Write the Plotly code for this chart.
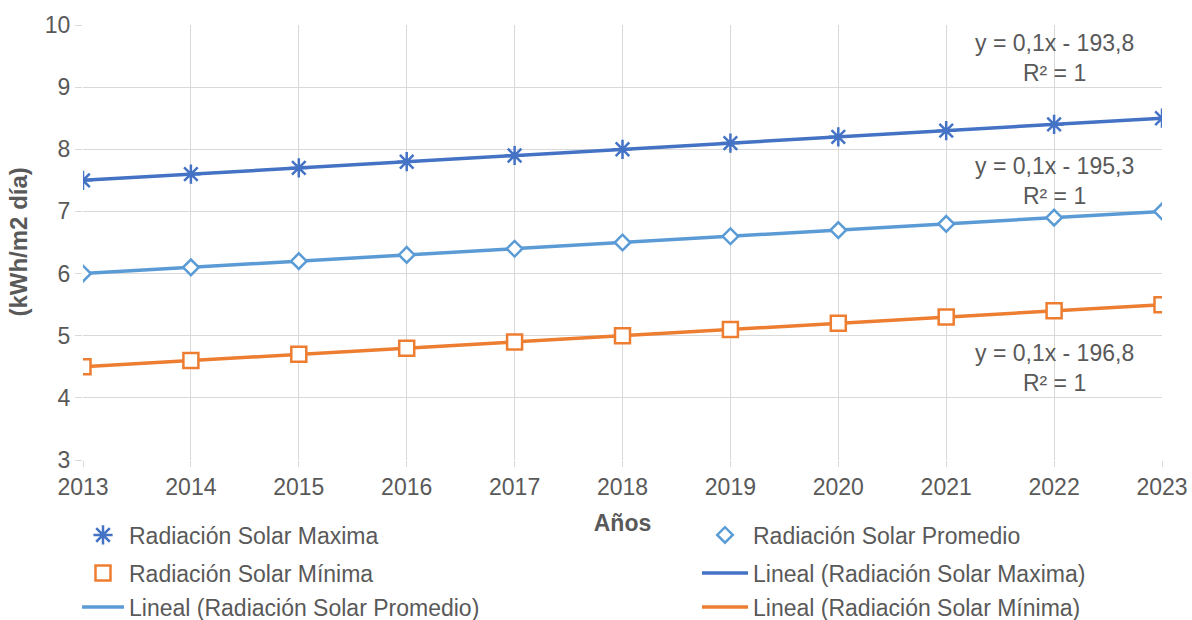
import numpy as np
import plotly.graph_objects as go

years = [2013, 2014, 2015, 2016, 2017, 2018, 2019, 2020, 2021, 2022, 2023]
rad_max = [7.5, 7.6, 7.7, 7.8, 7.9, 8.0, 8.1, 8.2, 8.3, 8.4, 8.5]
rad_prom = [6.0, 6.1, 6.2, 6.3, 6.4, 6.5, 6.6, 6.7, 6.8, 6.9, 7.0]
rad_min = [4.5, 4.6, 4.7, 4.8, 4.9, 5.0, 5.1, 5.2, 5.3, 5.4, 5.5]

names = ["Radiación Solar Maxima", "Radiación Solar Promedio", "Radiación Solar Mínima"]
colors = ["#4472C4", "#5B9BD5", "#ED7D31"]
symbols = ["asterisk-open", "diamond", "square"]
sizes = [16, 12, 15]

# one legend box per entry, laid out in two columns like the original
marker_leg = ["legend", "legend2", "legend3"]
line_leg = ["legend4", "legend5", "legend6"]
W, H = 1192, 620
leg_xy = {
    "legend": (77, 535), "legend2": (697, 535),
    "legend3": (77, 573), "legend4": (697, 573),
    "legend5": (77, 607), "legend6": (697, 607),
}
eq_pos = [(2022.0, 9.47), (2022.0, 7.49), (2022.0, 4.48)]

FONT = "Liberation Sans, Arial, sans-serif"
GREY = "#595959"
FS = 23

fig = go.Figure()
x = np.array(years, dtype=float)

for i, ys in enumerate([rad_max, rad_prom, rad_min]):
    slope, icpt = np.polyfit(x, ys, 1)
    fit = slope * x + icpt
    r2 = 1 - np.sum((np.array(ys) - fit) ** 2) / np.sum((np.array(ys) - np.mean(ys)) ** 2)
    fig.add_trace(go.Scatter(
        x=years, y=fit, mode="lines", name=f"Lineal ({names[i]})",
        line=dict(color=colors[i], width=3.5), legend=line_leg[i],
    ))
    sign = "-" if icpt < 0 else "+"
    txt = f"y = {slope:.1f}x {sign} {abs(icpt):.1f}<br>R² = {r2:.0f}".replace(".", ",")
    fig.add_annotation(x=eq_pos[i][0], y=eq_pos[i][1], text=txt, showarrow=False,
                       font=dict(family=FONT, size=FS, color=GREY), align="center")

for i, ys in enumerate([rad_max, rad_prom, rad_min]):
    mk = dict(symbol=symbols[i], size=sizes[i], line=dict(color=colors[i], width=2.5))
    mk["color"] = colors[i] if i == 0 else "white"
    fig.add_trace(go.Scatter(
        x=years, y=ys, mode="markers", name=names[i], marker=mk, legend=marker_leg[i],
    ))

legends = {}
for key, (lx, py) in leg_xy.items():
    iw = 46 if lx > 500 else 42
    legends[key] = dict(xref="container", yref="container", x=lx / W, y=1 - py / H,
                        xanchor="left", yanchor="middle", itemwidth=iw,
                        font=dict(family=FONT, size=FS, color=GREY), bgcolor="rgba(0,0,0,0)")

# y axis title (plotly misplaces it here with several legends, so pin it)
fig.add_annotation(text="<b>(kWh/m2 día)</b>", xref="paper", yref="paper", x=-0.0602, y=0.5,
                   textangle=-90, showarrow=False, xanchor="center", yanchor="middle",
                   font=dict(family=FONT, size=24, color=GREY))

fig.update_layout(
    width=W, height=H,
    margin=dict(l=83, r=30, t=25, b=160, autoexpand=False),
    plot_bgcolor="white", paper_bgcolor="white",
    font=dict(family=FONT, size=FS, color=GREY),
    showlegend=True,
    **legends,
    xaxis=dict(
        range=[2013, 2023], tickvals=years, showgrid=True, gridcolor="#D9D9D9", gridwidth=1.3,
        zeroline=False, showline=False, ticks="outside", ticklen=6, tickcolor="#D9D9D9",
        tickfont=dict(size=FS, color=GREY), automargin=False,
        title=dict(text="<b>Años</b>", standoff=16, font=dict(size=FS, color=GREY)),
    ),
    yaxis=dict(
        range=[3, 10], dtick=1, showgrid=True, gridcolor="#D9D9D9", gridwidth=1.3,
        zeroline=False, showline=False, ticks="outside", ticklen=7, tickcolor="#D9D9D9",
        tickfont=dict(size=FS, color=GREY), automargin=False,
    ),
)

fig.write_html("out.html", config={"displayModeBar": False},
               post_script="document.body.style.margin='0';")
